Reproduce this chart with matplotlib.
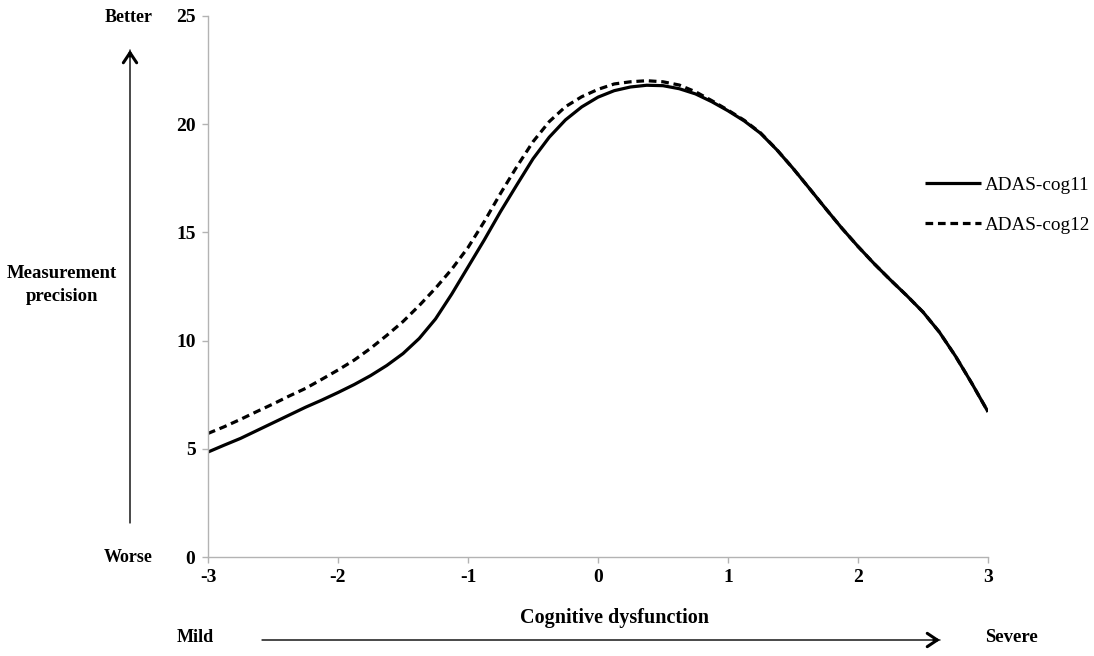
import matplotlib
matplotlib.use("Agg")
from matplotlib import pyplot as plt

plt.rcParams["font.family"] = ["Liberation Serif", "DejaVu Serif"]

# theta grid (cognitive dysfunction) and precision curves
theta = [-3, -2.875, -2.75, -2.625, -2.5, -2.375, -2.25, -2.125, -2, -1.875,
         -1.75, -1.625, -1.5, -1.375, -1.25, -1.125, -1, -0.875, -0.75, -0.625,
         -0.5, -0.375, -0.25, -0.125, 0, 0.125, 0.25, 0.375, 0.5, 0.625,
         0.75, 0.875, 1, 1.125, 1.25, 1.375, 1.5, 1.625, 1.75, 1.875,
         2, 2.125, 2.25, 2.375, 2.5, 2.625, 2.75, 2.875, 3]
cog11 = [4.85, 5.17, 5.48, 5.84, 6.2, 6.56, 6.92, 7.25, 7.6, 7.97,
         8.38, 8.85, 9.4, 10.1, 11.0, 12.15, 13.4, 14.65, 15.96, 17.19,
         18.4, 19.4, 20.2, 20.8, 21.25, 21.55, 21.72, 21.8, 21.78, 21.64,
         21.4, 21.04, 20.62, 20.15, 19.58, 18.82, 17.96, 17.04, 16.11, 15.2,
         14.35, 13.55, 12.8, 12.08, 11.32, 10.4, 9.28, 8.03, 6.71]
cog12 = [5.71, 6.02, 6.36, 6.72, 7.07, 7.44, 7.79, 8.21, 8.64, 9.1,
         9.64, 10.24, 10.88, 11.62, 12.42, 13.3, 14.3, 15.5, 16.8, 18.03,
         19.19, 20.12, 20.81, 21.27, 21.61, 21.86, 21.96, 22.01, 21.96, 21.81,
         21.5, 21.09, 20.65, 20.18, 19.6, 18.83, 17.96, 17.04, 16.11, 15.2,
         14.35, 13.55, 12.8, 12.08, 11.32, 10.4, 9.28, 8.03, 6.71]
xticks = [-3, -2, -1, 0, 1, 2, 3]
yticks = [0, 5, 10, 15, 20, 25]

W, H = 1094, 656
fig = plt.figure(figsize=(W / 100, H / 100), dpi=100)
ax = fig.add_axes([208 / W, 1 - 557 / H, 780 / W, 541 / H])

ax.plot(theta, cog11, color="black", lw=2.3, label="ADAS-cog11",
        solid_capstyle="butt", solid_joinstyle="round")
ax.plot(theta, cog12, color="black", lw=2.3, dashes=(2.4, 1.5), label="ADAS-cog12")

ax.set_xlim(-3, 3)
ax.set_ylim(0, 25)
ax.set_xticks(xticks)
ax.set_yticks(yticks)
ax.set_xticklabels([str(t) for t in xticks], fontweight="bold", fontsize=14)
ax.set_yticklabels([str(t) for t in yticks], fontweight="bold", fontsize=14)
for s in ["top", "right"]:
    ax.spines[s].set_visible(False)
for s in ["left", "bottom"]:
    ax.spines[s].set_color("#b3b3b3")
    ax.spines[s].set_linewidth(1.0)
ax.tick_params(direction="out", length=4, width=1.0, color="#b3b3b3", pad=5)

leg = ax.legend(loc="center left", bbox_to_anchor=(925 / W, 1 - 205 / H),
                bbox_transform=fig.transFigure, frameon=False, fontsize=13.8,
                handlelength=2.9, handletextpad=0.2, labelspacing=1.2,
                borderpad=0, borderaxespad=0)

def ftext(x, y, s, size=13, **kw):
    fig.text(x / W, 1 - y / H, s, fontweight="bold", fontsize=size, **kw)

ftext(614, 618, "Cognitive dysfunction", size=14.5, ha="center", va="center")
ftext(62, 285, "Measurement\nprecision", size=13.5, ha="center", va="center",
      linespacing=1.5)
ftext(129, 17, "Better", ha="center", va="center")
ftext(128, 558, "Worse", ha="center", va="center")
ftext(195, 638, "Mild", ha="center", va="center")
ftext(985, 638, "Severe", size=13.5, ha="left", va="center")

def farrow(x0, y0, x1, y1, hx, hy):
    # thin shaft plus a heavier chevron head
    ax.annotate("", xy=(x1 / W, 1 - y1 / H), xytext=(x0 / W, 1 - y0 / H),
                xycoords="figure fraction", textcoords="figure fraction",
                arrowprops=dict(arrowstyle="-", lw=1.0, color="black",
                                shrinkA=0, shrinkB=0), annotation_clip=False)
    ax.annotate("", xy=(x1 / W, 1 - y1 / H), xytext=(hx / W, 1 - hy / H),
                xycoords="figure fraction", textcoords="figure fraction",
                arrowprops=dict(arrowstyle="->,head_length=0.45,head_width=0.3",
                                lw=2.2, color="black", mutation_scale=16,
                                shrinkA=0, shrinkB=0), annotation_clip=False)

farrow(130, 523, 130, 50, 130, 56)
farrow(262, 640, 940, 640, 934, 640)

fig.savefig("out.png", dpi=100)
